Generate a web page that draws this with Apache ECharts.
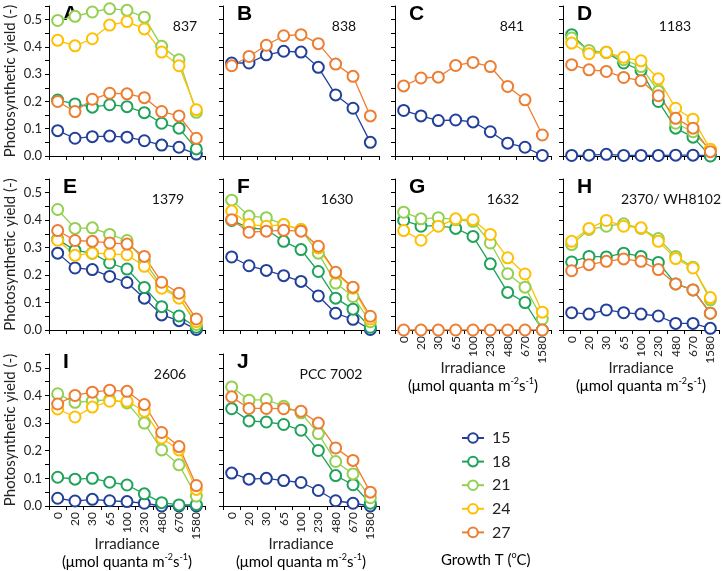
<!DOCTYPE html>
<html>
<head>
<meta charset="utf-8">
<script src="https://cdn.jsdelivr.net/npm/echarts@6.0.0/dist/echarts.min.js"></script>
<style>
  html, body { margin: 0; padding: 0; background: #fff; }
  #chart { width: 722px; height: 571px; }
</style>
</head>
<body>
<div id="chart"></div>
<script>
// irradiance steps (µmol quanta m-2 s-1), shared by every panel
const irradiance = ['0', '20', '30', '65', '100', '230', '480', '670', '1580'];
const temps = ['15', '18', '21', '24', '27'];
const tempColors = ['#22409a', '#1fa35a', '#92d050', '#ffc000', '#ed7d31'];

// photosynthetic yield per strain, keyed by growth temperature
const panelA = {
  '15': [0.093, 0.065, 0.071, 0.073, 0.069, 0.056, 0.040, 0.032, 0.007],
  '18': [0.205, 0.191, 0.179, 0.188, 0.181, 0.159, 0.120, 0.102, 0.026],
  '21': [0.497, 0.512, 0.528, 0.540, 0.534, 0.509, 0.402, 0.353, 0.160],
  '24': [0.424, 0.404, 0.430, 0.480, 0.493, 0.466, 0.381, 0.331, 0.170],
  '27': [0.200, 0.163, 0.208, 0.230, 0.228, 0.214, 0.163, 0.147, 0.065]
};
const panelB = {
  '15': [0.341, 0.341, 0.371, 0.384, 0.381, 0.325, 0.224, 0.175, 0.050],
  '27': [0.331, 0.365, 0.406, 0.441, 0.445, 0.412, 0.337, 0.292, 0.147]
};
const panelC = {
  '15': [0.167, 0.147, 0.130, 0.132, 0.125, 0.089, 0.047, 0.032, 0.002],
  '27': [0.257, 0.286, 0.289, 0.332, 0.343, 0.328, 0.255, 0.206, 0.077]
};
const panelD = {
  '15': [0.002, 0.003, 0.006, 0.002, 0.002, 0.002, 0.003, 0.003, 0.001],
  '18': [0.445, 0.384, 0.380, 0.341, 0.314, 0.200, 0.102, 0.069, 0.000],
  '21': [0.433, 0.387, 0.380, 0.353, 0.328, 0.237, 0.120, 0.089, 0.022],
  '24': [0.414, 0.375, 0.380, 0.362, 0.349, 0.283, 0.175, 0.135, 0.025],
  '27': [0.335, 0.316, 0.310, 0.288, 0.276, 0.221, 0.138, 0.102, 0.016]
};
const panelE = {
  '15': [0.280, 0.226, 0.220, 0.195, 0.173, 0.116, 0.055, 0.034, 0.002],
  '18': [0.330, 0.290, 0.280, 0.244, 0.222, 0.155, 0.085, 0.051, 0.010],
  '21': [0.439, 0.370, 0.372, 0.348, 0.326, 0.250, 0.160, 0.120, 0.020],
  '24': [0.327, 0.272, 0.280, 0.277, 0.274, 0.232, 0.152, 0.116, 0.030],
  '27': [0.362, 0.326, 0.323, 0.317, 0.313, 0.268, 0.174, 0.134, 0.040]
};
const panelF = {
  '15': [0.266, 0.234, 0.217, 0.198, 0.177, 0.124, 0.061, 0.039, 0.002],
  '18': [0.399, 0.372, 0.366, 0.323, 0.293, 0.213, 0.116, 0.076, 0.010],
  '21': [0.473, 0.415, 0.409, 0.384, 0.366, 0.280, 0.171, 0.122, 0.030],
  '24': [0.433, 0.384, 0.378, 0.384, 0.366, 0.299, 0.207, 0.152, 0.040],
  '27': [0.402, 0.356, 0.360, 0.363, 0.360, 0.305, 0.210, 0.156, 0.050]
};
const panelG = {
  '18': [0.399, 0.378, 0.380, 0.370, 0.341, 0.241, 0.137, 0.100, 0.000],
  '21': [0.429, 0.405, 0.409, 0.402, 0.396, 0.317, 0.205, 0.156, 0.040],
  '24': [0.362, 0.327, 0.378, 0.405, 0.402, 0.348, 0.263, 0.204, 0.065],
  '27': [0, 0, 0, 0, 0, 0, 0, 0, 0]
};
const panelH = {
  '15': [0.063, 0.058, 0.073, 0.063, 0.058, 0.051, 0.024, 0.024, 0.006],
  '18': [0.248, 0.268, 0.266, 0.280, 0.268, 0.246, 0.168, 0.146, 0.061],
  '21': [0.311, 0.366, 0.378, 0.387, 0.370, 0.333, 0.268, 0.229, 0.110],
  '24': [0.323, 0.370, 0.399, 0.378, 0.372, 0.323, 0.260, 0.226, 0.118],
  '27': [0.216, 0.238, 0.250, 0.259, 0.250, 0.220, 0.168, 0.146, 0.061]
};
const panelI = {
  '15': [0.028, 0.018, 0.024, 0.019, 0.016, 0.010, 0.000, 0.000, 0.000],
  '18': [0.104, 0.097, 0.100, 0.086, 0.076, 0.044, 0.012, 0.004, 0.005],
  '21': [0.406, 0.375, 0.380, 0.385, 0.373, 0.300, 0.203, 0.149, 0.036],
  '24': [0.351, 0.322, 0.358, 0.379, 0.379, 0.343, 0.246, 0.203, 0.060],
  '27': [0.369, 0.400, 0.412, 0.419, 0.415, 0.367, 0.266, 0.215, 0.074]
};
const panelJ = {
  '15': [0.119, 0.097, 0.100, 0.092, 0.085, 0.056, 0.019, 0.010, 0.000],
  '18': [0.352, 0.308, 0.304, 0.295, 0.274, 0.201, 0.110, 0.077, 0.010],
  '21': [0.431, 0.383, 0.385, 0.361, 0.337, 0.262, 0.161, 0.116, 0.030],
  '27': [0.395, 0.353, 0.353, 0.352, 0.343, 0.300, 0.210, 0.165, 0.050]
};

const letters = ['A', 'B', 'C', 'D', 'E', 'F', 'G', 'H', 'I', 'J'];
const strains = ['837', '838', '841', '1183', '1379', '1630', '1632', '2370/ WH8102', '2606', 'PCC 7002'];
const panelData = [panelA, panelB, panelC, panelD, panelE, panelF, panelG, panelH, panelI, panelJ];

// layout of the 4 x 3 panel grid
const colLeft = [49, 223, 395, 563];
const rowTop = [6, 179, 354];
const rowHeight = [150, 151, 152];
const plotW = 156;
const strainOffset = [136, 121, 117, 112, 119, 114, 108, 108, 121, 108];
const withXLabels = ['G', 'H', 'I', 'J'];

const FONT = 'Lato';
const grids = [], xAxes = [], yAxes = [], series = [], graphics = [];

panelData.forEach((pd, i) => {
  const row = Math.floor(i / 4), col = i % 4;
  const left = colLeft[col], top = rowTop[row], h = rowHeight[row];
  const showX = withXLabels.includes(letters[i]);
  grids.push({ left: left, top: top, width: plotW, height: h });
  xAxes.push({
    gridIndex: i,
    type: 'category',
    data: irradiance,
    boundaryGap: true,
    axisLine: { lineStyle: { color: '#000', width: 1 } },
    axisTick: { show: true, length: 4, interval: 0, lineStyle: { color: '#000' } },
    axisLabel: { show: showX, rotate: 90, interval: 0, fontSize: 12, fontFamily: FONT, color: '#222', margin: 6 },
    splitLine: { show: false }
  });
  yAxes.push({
    gridIndex: i,
    type: 'value',
    min: 0,
    max: 0.55,
    interval: 0.05,
    name: col === 0 ? 'Photosynthetic yield (-)' : '',
    nameLocation: 'middle',
    nameGap: 31,
    nameTextStyle: { fontSize: 15, fontFamily: FONT, color: '#222' },
    axisLine: { show: true, lineStyle: { color: '#000', width: 1 } },
    axisTick: { show: true, length: 4, lineStyle: { color: '#000' } },
    axisLabel: {
      show: col === 0,
      fontSize: 13,
      fontFamily: FONT,
      color: '#222',
      margin: 7,
      formatter: v => (Math.round(v * 100) % 10 === 0 ? v.toFixed(1) : '')
    },
    splitLine: { show: false }
  });

  temps.forEach((t, k) => {
    if (!pd[t]) return;
    series.push({
      name: t,
      type: 'line',
      xAxisIndex: i,
      yAxisIndex: i,
      data: pd[t],
      symbol: 'emptyCircle',
      symbolSize: 11,
      color: tempColors[k],
      lineStyle: { width: 1.3, color: tempColors[k] },
      itemStyle: { color: tempColors[k], borderWidth: 1.4 },
      emphasis: { disabled: true }
    });
  });

  graphics.push({
    type: 'text', left: left + 14, top: top - 2,
    style: { text: letters[i], font: 'bold 21px "Liberation Sans"', fill: '#000' }
  });
  graphics.push({
    type: 'text', x: left + strainOffset[i], y: top + 20,
    style: { text: strains[i], fontSize: 14, fontFamily: FONT, fill: '#111', align: 'center', verticalAlign: 'middle' }
  });

  if (showX) {
    graphics.push({
      type: 'text', x: left + plotW / 2, y: top + h + 38,
      style: { text: 'Irradiance', fontSize: 15, fontFamily: FONT, fill: '#222', align: 'center', verticalAlign: 'middle' }
    });
    graphics.push({
      type: 'text', x: left + plotW / 2, y: top + h + 56,
      style: {
        text: '{n|(μmol quanta m}{s|-2}{n|s}{s|-1}{n|)}',
        align: 'center', verticalAlign: 'middle',
        rich: {
          n: { fontSize: 15, fontFamily: FONT, color: '#222', lineHeight: 18 },
          s: { fontSize: 9, fontFamily: FONT, color: '#222', verticalAlign: 'top', lineHeight: 18 }
        }
      }
    });
  }
});

graphics.push({
  type: 'text', x: 441, y: 560,
  style: {
    text: '{n|Growth T (}{s|o}{n|C)}',
    verticalAlign: 'middle',
    rich: {
      n: { fontSize: 15, fontFamily: FONT, color: '#222', lineHeight: 18 },
      s: { fontSize: 9, fontFamily: FONT, color: '#222', verticalAlign: 'top', lineHeight: 18 }
    }
  }
});

const chart = echarts.init(document.getElementById('chart'), null, { renderer: 'canvas' });
chart.setOption({
  animation: false,
  backgroundColor: '#fff',
  grid: grids,
  xAxis: xAxes,
  yAxis: yAxes,
  series: series,
  legend: {
    data: temps,
    orient: 'vertical',
    left: 456,
    top: 425,
    itemWidth: 22,
    itemHeight: 12,
    itemGap: 7.6,
    selectedMode: false,
    textStyle: { fontSize: 16, fontFamily: FONT, color: '#222', padding: [0, 0, 0, 3] }
  },
  graphic: graphics
});
</script>
</body>
</html>
